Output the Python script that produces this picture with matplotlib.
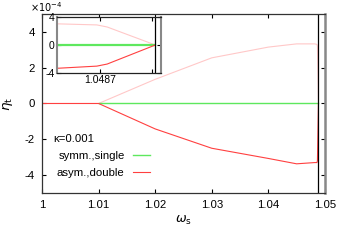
import numpy as np
import matplotlib
matplotlib.use("Agg")
import matplotlib.pyplot as plt

plt.rcParams['font.family'] = ['Liberation Sans', 'DejaVu Sans']
plt.rcParams['mathtext.fontset'] = 'dejavusans'
plt.rcParams['axes.unicode_minus'] = False

# main panel (eta in units of 1e-4)
w_pink = [1.0, 1.01, 1.02, 1.03, 1.04, 1.045, 1.0482, 1.0486, 1.04868, 1.04886]
eta_pink = [0.0, 0.0, 1.35, 2.55, 3.15, 3.33, 3.33, 3.3, 3.2, 0.0]
w_red = [1.0, 1.01, 1.02, 1.03, 1.04, 1.045, 1.0482, 1.0486, 1.04868, 1.04886]
eta_red = [0.0, 0.0, -1.42, -2.5, -3.07, -3.37, -3.3, -3.3, -3.2, 0.0]
w_green = [1.01, 1.04886]
eta_green = [0.0, 0.0]
w_crit = 1.04886

# inset
wi_pink = [1.04855, 1.04858, 1.04869, 1.04872, 1.04886]
etai_pink = [3.05, 3.05, 2.9, 2.6, 0.0]
wi_red = [1.04855, 1.04858, 1.04869, 1.04872, 1.04886]
etai_red = [-3.35, -3.35, -3.05, -2.75, 0.0]
wi_green = [1.04855, 1.04886]
etai_green = [0.0, 0.0]

pink = '#ffc8c8'
red = '#ff4040'
green = '#5ee85e'
fs = 8.2

fig = plt.figure(figsize=(3.46, 2.42), dpi=100)
ax = fig.add_axes([0.1214, 0.2025, 0.8176, 0.7397])
ax.plot(w_pink, eta_pink, color=pink, lw=0.8)
ax.plot(w_green, eta_green, color=green, lw=1.0, label='symm.,single')
ax.plot(w_red, eta_red, color=red, lw=0.8, label='asym.,double')
ax.axvline(w_crit, color='black', lw=0.9)
ax.set_xlim(1.0, 1.05)
ax.set_ylim(-5, 5)
ax.set_xticks([1.0, 1.01, 1.02, 1.03, 1.04, 1.05])
ax.set_xticklabels(['1', '1.01', '1.02', '1.03', '1.04', '1.05'])
ax.set_yticks([-4, -2, 0, 2, 4])
ax.tick_params(direction='in', length=3, width=0.8, labelsize=fs, top=True, right=True, pad=5)
for s in ax.spines.values():
    s.set_color('#333333')
    s.set_linewidth(0.9)
ax.spines['right'].set_color('#888888')
ax.spines['right'].set_linewidth(1.8)
ax.set_xlabel(r'$\omega_\mathrm{s}$', fontsize=fs + 1, labelpad=3)
ax.set_ylabel(r'$\eta_\mathrm{t}$', fontsize=fs + 1.5, labelpad=7)
fig.text(0.088, 0.972, r'$\times10^{-4}$', fontsize=7, va='center')
ax.text(0.04, 0.30, 'κ=0.001', transform=ax.transAxes, fontsize=fs, va='center')
ax.legend(loc='upper left', bbox_to_anchor=(0.053, 0.236), frameon=False, fontsize=fs,
          markerfirst=False, handlelength=1.45, handletextpad=0.75, labelspacing=0.6,
          borderpad=0, borderaxespad=0)

ins = fig.add_axes([0.1656, 0.6996, 0.2983, 0.2289])
ins.plot(wi_pink, etai_pink, color=pink, lw=0.8)
ins.plot(wi_green, etai_green, color=green, lw=1.6)
ins.plot(wi_red, etai_red, color=red, lw=0.8)
ins.axvline(w_crit, color='black', lw=0.9)
ins.set_xlim(1.048575, 1.048875)
ins.set_ylim(-4, 4)
ins.set_xticks([1.0487, 1.04885])
ins.set_xticklabels(['1.0487', ''])
ins.set_yticks([-4, 0, 4])
ins.tick_params(direction='in', length=3, width=0.8, labelsize=7.5, top=True, right=True, pad=2)
for s in ins.spines.values():
    s.set_color('#222222')
    s.set_linewidth(0.9)
ins.spines['left'].set_color('#888888')
ins.spines['left'].set_linewidth(1.5)
ins.spines['right'].set_color('#888888')
ins.spines['right'].set_linewidth(1.5)

fig.savefig('out.png', dpi=100)
